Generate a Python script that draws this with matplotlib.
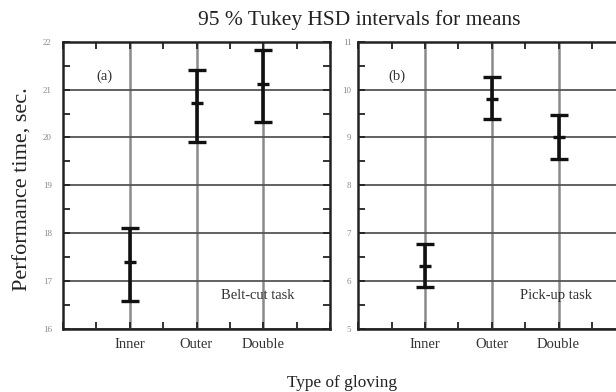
import matplotlib
matplotlib.use("Agg")
import matplotlib.pyplot as plt
from matplotlib.ticker import MultipleLocator, FixedLocator

plt.rcParams['font.family'] = ['Liberation Serif', 'DejaVu Serif']

categories = ["Inner", "Outer", "Double"]

# Panel (a): Belt-cut task
a_mean = [17.40, 20.72, 21.12]
a_low = [16.59, 19.90, 20.33]
a_high = [18.11, 21.41, 21.83]
a_yticks = [16, 17, 18, 19, 20, 21, 22]

# Panel (b): Pick-up task
b_mean = [6.32, 9.81, 9.02]
b_low = [5.88, 9.38, 8.56]
b_high = [6.78, 10.26, 9.46]
b_yticks = [5, 6, 7, 8, 9, 10, 11]

fig = plt.figure(figsize=(6.16, 3.92), dpi=100)
W, H = 616, 392

def make_ax(x0px, mean, low, high, yticks, tag, task, labpad, tagx, taskx):
    ax = fig.add_axes([x0px / W, (H - 329) / H, 267 / W, (329 - 41.7) / H])
    xs = [1, 2, 3]
    yerr = [[m - l for m, l in zip(mean, low)], [h - m for m, h in zip(mean, high)]]
    ax.set_xlim(0, 4)
    ax.set_ylim(yticks[0], yticks[-1])
    ax.xaxis.set_major_locator(FixedLocator(xs))
    ax.set_xticklabels(categories, fontsize=10.5, color='#333333')
    ax.xaxis.set_minor_locator(MultipleLocator(0.5))
    ax.set_yticks(yticks)
    ax.set_yticklabels([str(t) for t in yticks], fontsize=6.5, color='#888888')
    ax.yaxis.set_minor_locator(MultipleLocator(0.5))
    ax.grid(True, axis='x', color='#8a8a8a', lw=1.8, zorder=0)
    ax.grid(True, axis='y', color='#555555', lw=1.3, zorder=0)
    ax.set_axisbelow(True)
    for s in ax.spines.values():
        s.set_linewidth(1.8)
        s.set_color('#222222')
    ax.tick_params(which='both', direction='in', top=True, right=True,
                   width=1.3, color='#222222')
    ax.tick_params(which='major', length=5)
    ax.tick_params(which='minor', length=5)
    ax.tick_params(axis='y', which='major', pad=labpad)
    ax.tick_params(axis='x', which='major', pad=6.5)
    ax.errorbar(xs, mean, yerr=yerr, fmt='none', ecolor='#111111', elinewidth=2.6,
                capsize=6.6, capthick=2.4, zorder=3)
    ax.plot(xs, mean, ls='none', marker='_', ms=8.5, mew=2.4, color='#111111', zorder=4)
    ax.text(tagx, 0.88, tag, transform=ax.transAxes, fontsize=10.5, ha='center',
            va='center', color='#333333')
    ax.text(taskx, 0.115, task, transform=ax.transAxes, fontsize=10.5, ha='center',
            va='center', color='#333333')
    return ax

axa = make_ax(63, a_mean, a_low, a_high, a_yticks, "(a)", "Belt-cut task", 8, 0.157, 0.73)
axb = make_ax(358.3, b_mean, b_low, b_high, b_yticks, "(b)", "Pick-up task", 5, 0.146, 0.74)

fig.text(359 / W, 1 - 20 / H, "95 % Tukey HSD intervals for means", fontsize=15.5,
         ha='center', va='center', color='#222222')
fig.text(23 / W, 1 - 189 / H, "Performance time, sec.", fontsize=16, rotation=90,
         ha='center', va='center', color='#222222')
fig.text(342 / W, 1 - 383 / H, "Type of gloving", fontsize=12.4,
         ha='center', va='center', color='#222222')

fig.savefig("out.png", dpi=100)
